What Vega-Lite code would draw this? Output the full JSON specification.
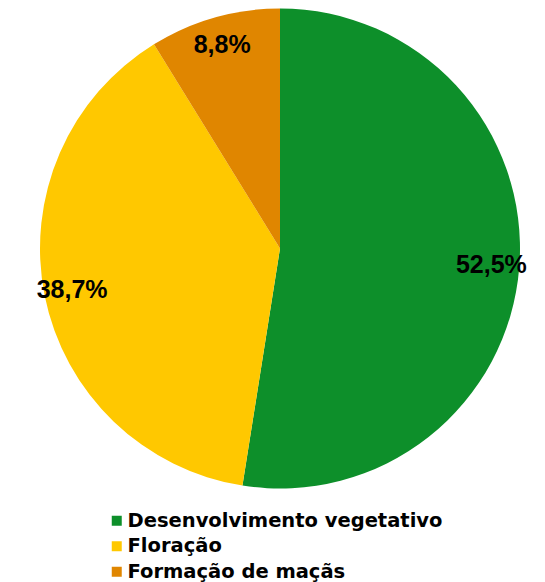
{
  "$schema": "https://vega.github.io/schema/vega-lite/v6.json",
  "width": 560,
  "height": 497,
  "padding": {"left": 0, "top": 0, "right": 0, "bottom": 85},
  "autosize": {"type": "none"},
  "background": "white",
  "config": {"view": {"stroke": null}},
  "data": {"values": [
    {"fase": "Desenvolvimento vegetativo", "pct": 52.5, "label": "52,5%", "ord": 1},
    {"fase": "Floração", "pct": 38.7, "label": "38,7%", "ord": 2},
    {"fase": "Formação de maçãs", "pct": 8.8, "label": "8,8%", "ord": 3}
  ]},
  "encoding": {
    "theta": {"field": "pct", "type": "quantitative", "stack": true},
    "order": {"field": "ord", "type": "quantitative"}
  },
  "layer": [
    {
      "mark": {"type": "arc", "outerRadius": 240},
      "encoding": {
        "color": {
          "field": "fase", "type": "nominal",
          "sort": ["Desenvolvimento vegetativo", "Floração", "Formação de maçãs"],
          "scale": {"domain": ["Desenvolvimento vegetativo", "Floração", "Formação de maçãs"], "range": ["#0D8F2A", "#FFC800", "#E08600"]},
          "legend": {
            "title": null, "orient": "none", "legendX": 107, "legendY": 511, "direction": "vertical",
            "symbolType": "square", "symbolSize": 100, "symbolStrokeWidth": 0,
            "labelFont": "DejaVu Sans", "labelFontSize": 19.5, "labelFontWeight": "bold",
            "labelColor": "black", "labelOffset": 1, "rowPadding": 4.5, "labelLimit": 400
          }
        }
      }
    },
    {
      "mark": {"type": "text", "radius": 212, "font": "Liberation Sans", "fontSize": 25, "fontWeight": "bold", "color": "black"},
      "encoding": {"text": {"field": "label"}}
    }
  ]
}
